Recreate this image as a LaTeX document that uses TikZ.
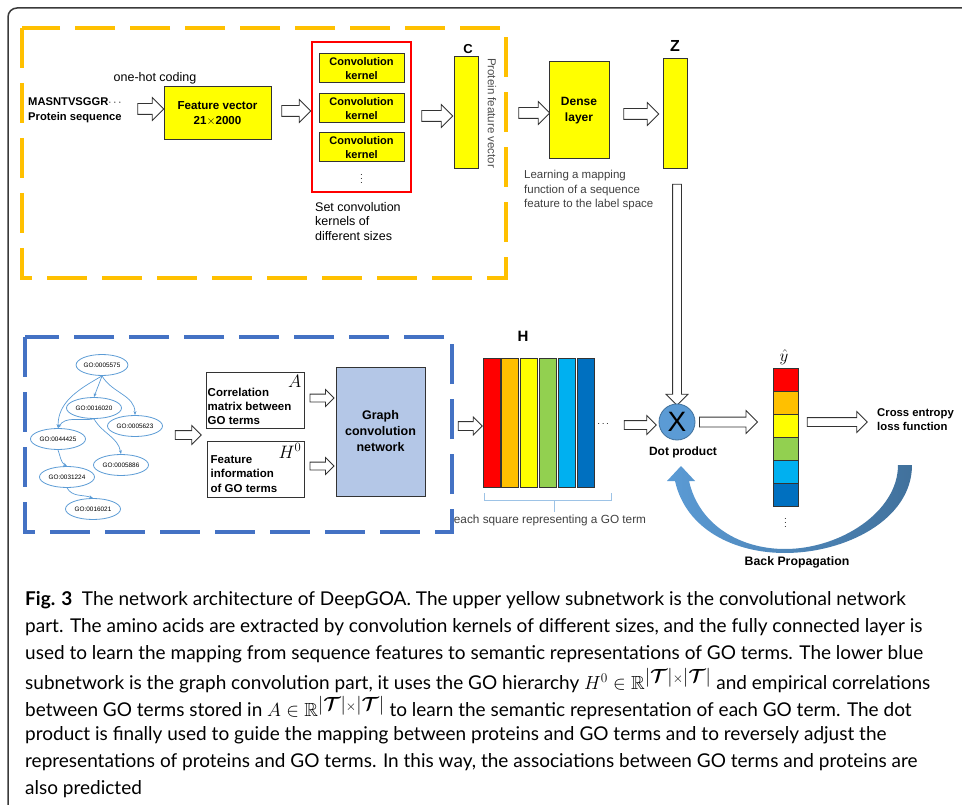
\RequirePackage{fix-cm}
\documentclass[tikz,border=0pt]{standalone}
\usepackage{amsmath,amssymb}
\usepackage{fontspec}
\setsansfont{Liberation Sans}
\newfontfamily\capfont{Lato}
\usetikzlibrary{shapes.geometric,shapes.arrows,arrows.meta}

\definecolor{dashyellow}{HTML}{FFC000}
\definecolor{dashblue}{HTML}{4472C4}
\definecolor{goblue}{HTML}{5B9BD5}
\definecolor{gcnfill}{HTML}{B4C7E7}
\definecolor{hred}{HTML}{FF0000}
\definecolor{horange}{HTML}{FFC000}
\definecolor{hyellow}{HTML}{FFFF00}
\definecolor{hgreen}{HTML}{92D050}
\definecolor{hcyan}{HTML}{00B0F0}
\definecolor{hblue}{HTML}{0070C0}
\definecolor{bpdark}{HTML}{41719C}
\definecolor{bracketblue}{HTML}{9DC3E6}
\definecolor{framegrey}{HTML}{3A3A3A}

\newcommand{\goset}{\lvert\boldsymbol{\mathcal{T}}\rvert{\scriptstyle\times}\lvert\boldsymbol{\mathcal{T}}\rvert}

\tikzset{
    lbl/.style 2 args={font=\sffamily\bfseries\fontsize{#1}{#2}\selectfont, align=center, inner sep=0pt},
    note/.style 2 args={font=\sffamily\fontsize{#1}{#2}\selectfont, inner sep=0pt},
    ybox/.style={draw=black!80, fill=hyellow, line width=1pt, inner sep=0pt},
    wbox/.style={draw=black!80, fill=white, line width=1pt, inner sep=0pt},
    blockarr/.style n args={3}{single arrow, draw=black!80, fill=white, line width=0.8pt,
        inner xsep=0pt, inner ysep=#2, single arrow head extend=#3, minimum height=#1},
    goterm/.style={ellipse, draw=goblue, line width=0.8pt, fill=white, inner sep=0pt,
        minimum width=55pt, minimum height=21pt, font=\sffamily\fontsize{6.4}{7}\selectfont},
    goedge/.style={draw=goblue, line width=0.7pt, -{Stealth[length=4pt,width=3pt]}},
    dashbox/.style={line width=4pt, dash pattern=on 40pt off 15pt},
    capline/.style={anchor=west, inner sep=0pt, font=\capfont\fontsize{19}{23}\selectfont}
}

\begin{document}
\begin{tikzpicture}[x=1pt,y=-1pt]
    % Cadre de la figure
    \useasboundingbox (0,0) rectangle (962,805);
    \draw[framegrey, line width=1.5pt, rounded corners=9pt] (8,830) -- (8,8) -- (990,8);

    % Sous-reseau convolutif (jaune)
    \draw[dashyellow, dashbox] (22,28) rectangle (506,278);

    % Sequence d'entree
    \node[lbl={11.2}{15}, align=left, anchor=west] (seq) at (28,110) {MASNTVSGGR$\cdots$\\Protein sequence};
    \node[note={12.5}{15}] (onehot) at (155,78) {one-hot coding};
    \node[blockarr={26}{5pt}{6pt}] (a1) at (148,109) {};
    \node[ybox, minimum width=107, minimum height=53, lbl={11.6}{15}] (feat) at (217.5,113.5) {Feature vector\\21$\times$2000};
    \node[blockarr={29}{5pt}{6pt}] (a2) at (293.5,111) {};

    % Noyaux de convolution
    \node[draw=red, line width=2pt, minimum width=99, minimum height=150] (kern) at (361.5,117) {};
    \foreach \y [count=\i] in {68.5,108.5,147.5}
        \node[ybox, minimum width=85, minimum height=29, lbl={11}{13.5}] (k\i) at (361.5,\y) {Convolution\\kernel};
    \node[inner sep=0pt] (kdots) at (361.5,176) {$\vdots$};
    \node[note={12.5}{14.5}, align=left, anchor=north west] (kset) at (315,202) {Set convolution\\kernels of\\different sizes};

    % Vecteur C
    \node[blockarr={31}{5pt}{6pt}] (a3) at (434.5,116) {};
    \node[ybox, minimum width=24, minimum height=112] (cvec) at (466,113) {};
    \node[lbl={13}{15}] (clab) at (468,49) {C};
    \node[note={11.5}{14}, text=black!70, rotate=-90] (pfv) at (492,113) {Protein feature vector};

    % Couche dense et vecteur Z
    \node[blockarr={31}{5pt}{6pt}] (a4) at (531.5,113) {};
    \node[ybox, minimum width=60, minimum height=97, lbl={12}{16}] (dense) at (579,110.5) {Dense\\layer};
    \node[note={11.5}{14.5}, text=black!75, align=left, anchor=north west] (learn) at (524,170) {Learning a mapping\\function of a sequence\\feature to the label space};
    \node[blockarr={35}{5pt}{6pt}] (a5) at (638.5,114) {};
    \node[ybox, minimum width=24, minimum height=110] (zvec) at (675,114) {};
    \node[lbl={16}{18}] (zlab) at (675,46) {Z};
    \node[blockarr={221}{4pt}{6.5pt}, rotate=-90] (av) at (677,292.5) {};

    % Sous-reseau GCN (bleu)
    \draw[dashblue, dashbox] (25,337) rectangle (452,532);

    % Hierarchie GO
    \node[goterm, minimum width=50pt] (g1) at (102,365) {GO:0005575};
    \node[goterm] (g2) at (94,408) {GO:0016020};
    \node[goterm] (g3) at (135,426) {GO:0005623};
    \node[goterm] (g4) at (58,439) {GO:0044425};
    \node[goterm] (g5) at (121,465) {GO:0005886};
    \node[goterm] (g6) at (67,477) {GO:0031224};
    \node[goterm] (g7) at (93,509) {GO:0016021};
    \draw[goedge] (g1.south) to[out=-110,in=70] (g2.north);
    \draw[goedge] (g1.south) to[out=-60,in=90] (g3.north);
    \draw[goedge] (g1.south) to[out=-150,in=90] (g4.north);
    \draw[goedge] (g2.south) to[out=-170,in=60] (g4.north);
    \draw[goedge] (g2.south) to[out=-60,in=100] (g5.north);
    \draw[goedge] (g4.south) to[out=-70,in=150] (g6.north);
    \draw[goedge] (g6.south) to[out=-60,in=160] (g7.north);

    % Entrees du GCN
    \node[blockarr={26}{4pt}{5pt}] (b1) at (186,435) {};
    \node[wbox, minimum width=98, minimum height=56] (cor) at (255,400) {};
    \node[lbl={11.5}{14}, align=left, anchor=west] (cortxt) at ([xshift=2pt,yshift=-6pt]cor.west) {Correlation\\matrix between\\GO terms};
    \node[font=\fontsize{18}{18}\selectfont, anchor=north east, inner sep=3pt] (amat) at (cor.north east) {$A$};
    \node[wbox, minimum width=97, minimum height=56] (finfo) at (255.5,469) {};
    \node[lbl={11.5}{14.5}, align=left, anchor=west] (fitxt) at ([xshift=4pt,yshift=-5pt]finfo.west) {Feature\\information\\of GO terms};
    \node[font=\fontsize{18}{18}\selectfont, anchor=north east, inner sep=3pt] (hzero) at (finfo.north east) {$H^0$};
    \node[blockarr={24}{3.5pt}{4.5pt}] (b2) at (320,398) {};
    \node[blockarr={24}{3.5pt}{4.5pt}] (b3) at (320,466) {};
    \node[draw=black!80, fill=gcnfill, line width=1pt, minimum width=89, minimum height=129, lbl={12.5}{16}] (gcn) at (380.5,431.5) {Graph\\convolution\\network};

    % Representation H
    \node[blockarr={24}{4pt}{4.5pt}] (b4) at (468,426) {};
    \foreach \c [count=\i] in {hred,horange,hyellow,hgreen,hcyan,hblue}
        \node[draw=black!80, fill=\c, line width=0.8pt, minimum width=17, minimum height=129, inner sep=0pt] (h\i) at ({472.7+18.8*\i},422.5) {};
    \node[lbl={15}{17}] (hlab) at (523,336) {H};
    \node[inner sep=0pt] (hdots) at (604,424) {$\cdots$};
    \draw[bracketblue, line width=1pt] (484,493) -- (484,500) -- (611,500) -- (611,493) (554,500) -- (554,512);
    \node[note={11.8}{14}, text=black!75] (each) at (550,520) {each square representing a GO term};

    % Produit scalaire
    \node[blockarr={32}{4pt}{5pt}] (b5) at (638,425) {};
    \node[circle, draw=bpdark, fill=goblue, line width=0.8pt, minimum size=36pt, inner sep=0pt, font=\sffamily\fontsize{28}{28}\selectfont] (dot) at (677,422) {X};
    \node[lbl={12}{14}] (dotlab) at (683,452) {Dot product};
    \node[blockarr={58}{4.5pt}{6.5pt}] (b6) at (726,422) {};

    % Sortie y chapeau
    \node[font=\fontsize{17}{17}\selectfont, inner sep=0pt] (yhat) at (784,357) {$\hat{y}$};
    \foreach \c [count=\i] in {hred,horange,hyellow,hgreen,hcyan,hblue}
        \node[draw=black!80, fill=\c, line width=0.8pt, minimum width=25, minimum height=23, inner sep=0pt] (y\i) at (785.5,{356.5+23*\i}) {};
    \node[inner sep=0pt] (ydots) at (785.5,520) {$\vdots$};
    \node[blockarr={60}{4pt}{6pt}] (b7) at (835,422) {};
    \node[lbl={11.3}{14}, align=left, anchor=west] (loss) at (877,420) {Cross entropy\\loss function};

    % Retropropagation
    \shade[left color=goblue, right color=bpdark]
        (675,481) .. controls (686,530) and (735,553) .. (785,553)
        .. controls (845,553) and (912,520) .. (912,465)
        -- (898,465)
        .. controls (898,512) and (840,549) .. (785,549)
        .. controls (740,549) and (699,525) .. (689,481)
        -- (695,481) -- (681,466) -- (667,481) -- cycle;
    \node[lbl={12.3}{14}] (bplab) at (797,562) {Back Propagation};

    % Legende
    \node[capline] (cap1) at (25,600) {\textbf{Fig. 3}\enspace The network architecture of DeepGOA. The upper yellow subnetwork is the convolutional network};
    \node[capline] (cap2) at (25,627) {part. The amino acids are extracted by convolution kernels of different sizes, and the fully connected layer is};
    \node[capline] (cap3) at (25,654) {used to learn the mapping from sequence features to semantic representations of GO terms. The lower blue};
    \node[capline] (cap4) at (25,681) {subnetwork is the graph convolution part, it uses the GO hierarchy $H^0\in\mathbb{R}^{\textstyle\goset}$ and empirical correlations};
    \node[capline] (cap5) at (25,708) {between GO terms stored in $A\in\mathbb{R}^{\textstyle\goset}$ to learn the semantic representation of each GO term. The dot};
    \node[capline] (cap6) at (25,735) {product is finally used to guide the mapping between proteins and GO terms and to reversely adjust the};
    \node[capline] (cap7) at (25,762) {representations of proteins and GO terms. In this way, the associations between GO terms and proteins are};
    \node[capline] (cap8) at (25,789) {also predicted};
\end{tikzpicture}
\end{document}
